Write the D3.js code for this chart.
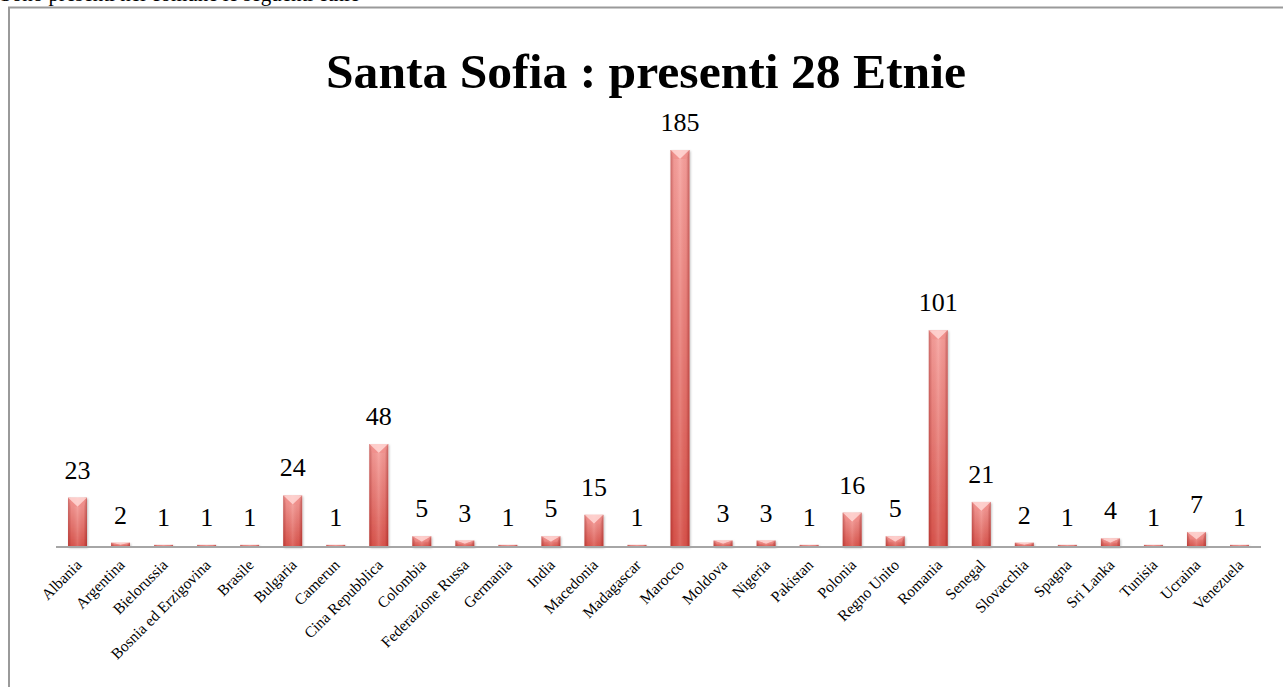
<!DOCTYPE html>
<html>
<head>
<meta charset="utf-8">
<script src="https://cdn.jsdelivr.net/npm/d3@7"></script>
<style>
  html, body { margin: 0; padding: 0; background: #fff; }
  svg { display: block; }
</style>
</head>
<body>
<svg id="chart" width="1283" height="687"></svg>
<script>
// ---- data ----
const categories = ["Albania","Argentina","Bielorussia","Bosnia ed Erzigovina","Brasile","Bulgaria","Camerun","Cina Repubblica","Colombia","Federazione Russa","Germania","India","Macedonia","Madagascar","Marocco","Moldova","Nigeria","Pakistan","Polonia","Regno Unito","Romania","Senegal","Slovacchia","Spagna","Sri Lanka","Tunisia","Ucraina","Venezuela"];
const values = [23,2,1,1,1,24,1,48,5,3,1,5,15,1,185,3,3,1,16,5,101,21,2,1,4,1,7,1];
const titleText = "Santa Sofia : presenti 28 Etnie";
const headerText = "Sono presenti nel comune le seguenti etnie";

const svg = d3.select("#chart");
const W = 1283, H = 687;

// header text (mostly hidden above the top of the page, as in the reference)
svg.append("text").attr("x", 0).attr("y", 1)
  .attr("font-family", "Liberation Serif").attr("font-size", 21)
  .attr("fill", "#000").text(headerText);

// chart frame
svg.append("rect").attr("x", 9).attr("y", 7.5).attr("width", W).attr("height", H)
  .attr("fill", "#fff").attr("stroke", "#9a9a9a").attr("stroke-width", 2);

// title
svg.append("text").attr("x", 646).attr("y", 88).attr("text-anchor", "middle")
  .attr("font-family", "Liberation Serif").attr("font-weight", "bold").attr("font-size", 48)
  .attr("textLength", 640).attr("lengthAdjust", "spacingAndGlyphs")
  .attr("fill", "#000").text(titleText);

// scales
const x = d3.scaleBand().domain(categories).range([56, 1261]).paddingInner(0.56).paddingOuter(0.28);
const y = d3.scaleLinear().domain([0, 185]).range([547, 150]);

// gradients
const defs = svg.append("defs");
const gv = defs.append("linearGradient").attr("id", "gv").attr("x1", 0).attr("y1", 0).attr("x2", 0).attr("y2", 1);
gv.append("stop").attr("offset", "0%").attr("stop-color", "#f7a39f");
gv.append("stop").attr("offset", "100%").attr("stop-color", "#d9554d");
const gh = defs.append("linearGradient").attr("id", "gh").attr("x1", 0).attr("y1", 0).attr("x2", 1).attr("y2", 0);
gh.append("stop").attr("offset", "0%").attr("stop-color", "#7a0000").attr("stop-opacity", 0.35);
gh.append("stop").attr("offset", "18%").attr("stop-color", "#7a0000").attr("stop-opacity", 0.05);
gh.append("stop").attr("offset", "50%").attr("stop-color", "#ffffff").attr("stop-opacity", 0.12);
gh.append("stop").attr("offset", "82%").attr("stop-color", "#7a0000").attr("stop-opacity", 0.05);
gh.append("stop").attr("offset", "100%").attr("stop-color", "#7a0000").attr("stop-opacity", 0.4);
const filt = defs.append("filter").attr("id", "sh").attr("x", "-30%").attr("y", "-10%").attr("width", "160%").attr("height", "130%");
filt.append("feDropShadow").attr("dx", 1).attr("dy", 1).attr("stdDeviation", 1).attr("flood-color", "#000").attr("flood-opacity", 0.25);

const data = categories.map((c, i) => ({c, v: values[i]}));
const bw = x.bandwidth();

const g = svg.append("g");
const bars = g.selectAll("g.bar").data(data).join("g").attr("class", "bar");
bars.append("rect")
  .attr("x", d => x(d.c)).attr("y", d => y(d.v))
  .attr("width", bw).attr("height", d => Math.max(1.5, y(0) - y(d.v)))
  .attr("fill", "url(#gv)").attr("filter", "url(#sh)");
bars.append("rect")
  .attr("x", d => x(d.c)).attr("y", d => y(d.v))
  .attr("width", bw).attr("height", d => Math.max(1.5, y(0) - y(d.v)))
  .attr("fill", "url(#gh)");
// top bevel
bars.filter(d => y(0) - y(d.v) > 4).append("path")
  .attr("d", d => {
    const x0 = x(d.c), x1 = x0 + bw, t = y(d.v);
    const h = Math.min(9, (y(0) - t) * 0.5);
    return `M${x0},${t}L${x1},${t}L${x0 + bw/2},${t + h}Z`;
  })
  .attr("fill", "#ffd6d4").attr("opacity", 0.85);
bars.filter(d => y(0) - y(d.v) > 4).append("path")
  .attr("d", d => {
    const x0 = x(d.c), x1 = x0 + bw, t = y(d.v);
    const h = Math.min(9, (y(0) - t) * 0.5);
    return `M${x0},${t}L${x0 + 3},${t + h}L${x1 - 3},${t + h}L${x1},${t}L${x0 + bw/2},${t + h}Z`;
  })
  .attr("fill", "#f08c88").attr("opacity", 0.6);

// axis line
svg.append("line").attr("x1", 56).attr("x2", 1261).attr("y1", y(0)).attr("y2", y(0))
  .attr("stroke", "#a6a6a6").attr("stroke-width", 2);

// value labels
g.selectAll("text.val").data(data).join("text").attr("class", "val")
  .attr("x", d => x(d.c) + bw / 2).attr("y", d => y(d.v) - 19)
  .attr("text-anchor", "middle").attr("font-family", "Liberation Serif").attr("font-size", 26)
  .attr("fill", "#000").text(d => d.v);

// category labels
const xAxis = d3.axisBottom(x).tickSize(0).tickPadding(0);
const ax = svg.append("g").attr("transform", `translate(0,${y(0)})`).call(xAxis);
ax.select(".domain").remove();
ax.selectAll("text")
  .attr("font-family", "Liberation Serif").attr("font-size", 15.5).attr("fill", "#000")
  .attr("text-anchor", "end").attr("dy", null).attr("y", 0)
  .attr("transform", "translate(5,19) rotate(-45)");
</script>
</body>
</html>
